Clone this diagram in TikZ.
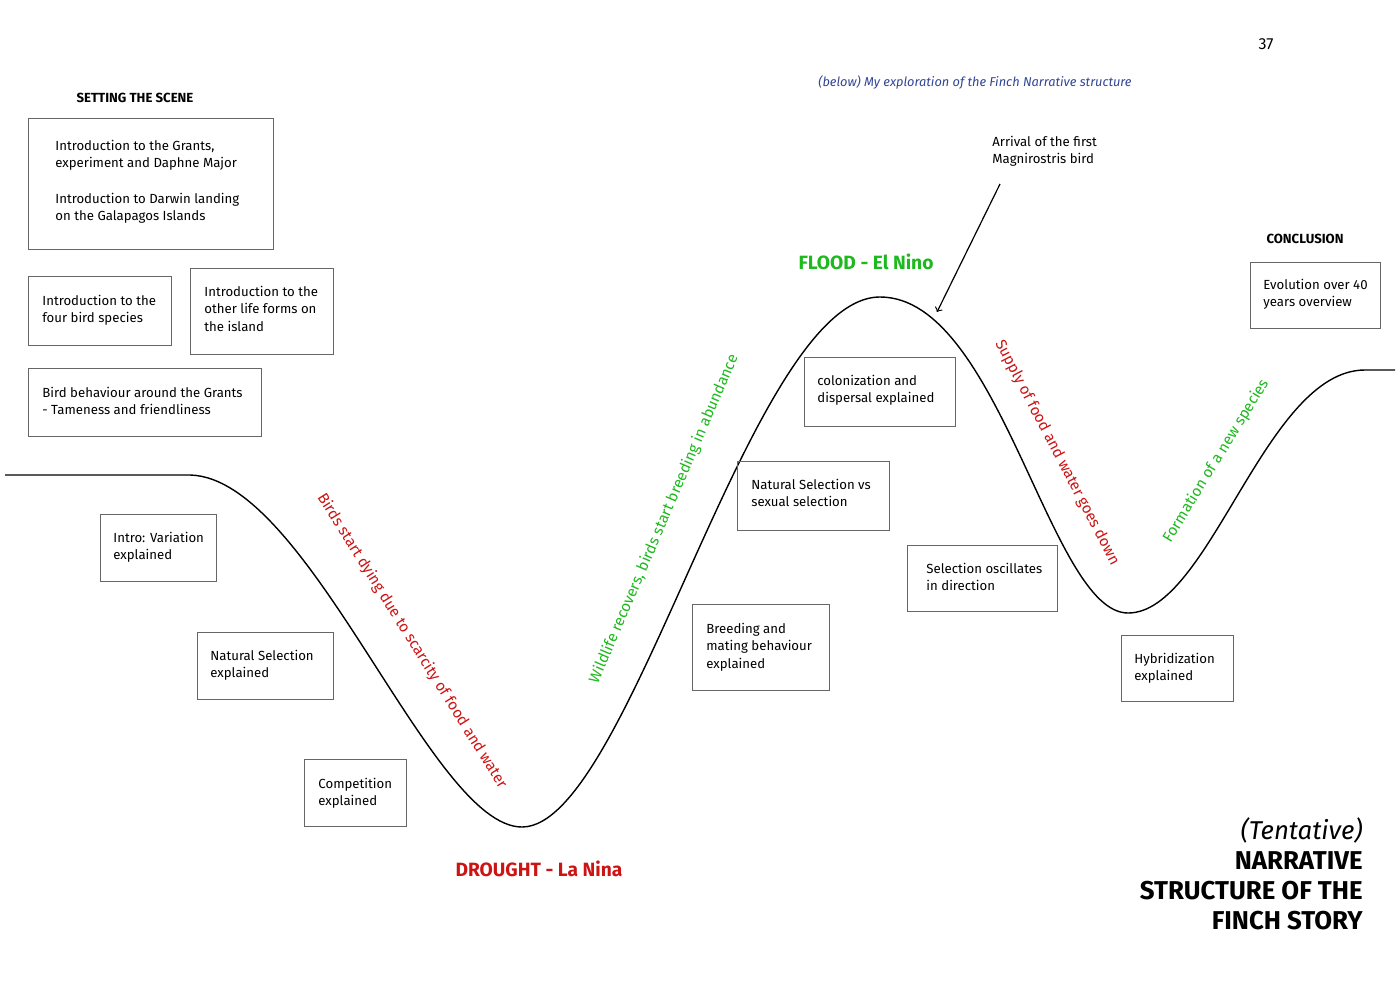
\documentclass[tikz,border=0pt]{standalone}
\usepackage{fontspec}
\setmainfont{Fira Sans}
\definecolor{grn}{RGB}{30,185,30}
\definecolor{rd}{RGB}{205,20,20}
\definecolor{blu}{RGB}{50,70,150}
\begin{document}
\begin{tikzpicture}[x=0.5pt,y=-0.5pt,
 box/.style={draw=black!60,line width=0.5pt},
 txt/.style={anchor=north west,align=left,inner sep=0pt,font=\fontsize{6.6}{8.6}\selectfont},
 lbl/.style={font=\fontsize{7.6}{9}\selectfont,inner sep=0pt},
 hd/.style={font=\fontsize{6.6}{8}\selectfont\bfseries,inner sep=0pt},
 big/.style={font=\fontsize{12.9}{15}\selectfont\bfseries,inner sep=0pt,anchor=east}]
\useasboundingbox (0,0) rectangle (1400,990);
\fill[white] (0,0) rectangle (1400,990);
\draw[line width=0.7pt] (5,475) -- (190,475) .. controls (310,478) and (430,827) .. (522,827)
 .. controls (630,827) and (750,297) .. (880,297)
 .. controls (1000,297) and (1050,613) .. (1128,613)
 .. controls (1210,613) and (1265,370) .. (1365,370) -- (1395,370);
% boxes
\draw[box] (28,118) rectangle (273,249);
\node[txt] (b1) at (55,140) {Introduction to the Grants,\\experiment and Daphne Major\\[9pt]Introduction to Darwin landing\\on the Galapagos Islands};
\draw[box] (28,276) rectangle (171,345);
\node[txt] (b2) at (42,295) {Introduction to the\\four bird species};
\draw[box] (190,268) rectangle (333,354);
\node[txt] (b3) at (204,286) {Introduction to the\\other life forms on\\the island};
\draw[box] (28,368) rectangle (261,436);
\node[txt] (b4) at (42,387) {Bird behaviour around the Grants\\- Tameness and friendliness};
\draw[box] (100,514) rectangle (216,581);
\node[txt] (b5) at (113,532) {Intro: Variation\\explained};
\draw[box] (197,632) rectangle (333,699);
\node[txt] (b6) at (210,650) {Natural Selection\\explained};
\draw[box] (304,759) rectangle (406,826);
\node[txt] (b7) at (318,778) {Competition\\explained};
\draw[box] (692,604) rectangle (829,690);
\node[txt] (b8) at (706,623) {Breeding and\\mating behaviour\\explained};
\draw[box] (737,461) rectangle (889,530);
\node[txt] (b9) at (751,479) {Natural Selection vs\\sexual selection};
\draw[box] (804,357) rectangle (955,426);
\node[txt] (b10) at (817,375) {colonization and\\dispersal explained};
\draw[box] (907,545) rectangle (1057,611);
\node[txt] (b11) at (926,563) {Selection oscillates\\in direction};
\draw[box] (1121,635) rectangle (1233,701);
\node[txt] (b12) at (1134,653) {Hybridization\\explained};
\draw[box] (1250,262) rectangle (1380,328);
\node[txt] (b13) at (1263,279) {Evolution over 40\\years overview};
% headings
\node[hd] (h1) at (135,98) {SETTING THE SCENE};
\node[hd] (h2) at (1305,239) {CONCLUSION};
\node[font=\fontsize{6.4}{8}\selectfont\itshape,text=blu,inner sep=0pt] (ex) at (975,82) {(below) My exploration of the Finch Narrative structure};
\node[font=\fontsize{8}{9}\selectfont,inner sep=0pt] (pg) at (1266,44) {37};
\node[txt] (arr) at (992,136) {Arrival of the first\\Magnirostris bird};
\coordinate (at) at (937,312);
\draw[->,line width=0.6pt] (1000,184) -- (at);
\node[font=\fontsize{9.6}{11}\selectfont\bfseries,text=grn,inner sep=0pt] (fl) at (866,262) {FLOOD - El Nino};
\node[font=\fontsize{9.6}{11}\selectfont\bfseries,text=rd,inner sep=0pt] (dr) at (539,869) {DROUGHT - La Nina};
% slanted labels
\node[lbl,text=rd,rotate=-58] (l1) at (412,641) {Birds start dying due to scarcity of food and water};
\node[lbl,text=grn,rotate=66.8] (l2) at (664,519) {Wildlife recovers, birds start breeding in abundance};
\node[lbl,text=rd,rotate=-62.4] (l3) at (1057,453) {Supply of food and water goes down};
\node[lbl,text=grn,rotate=58.5] (l4) at (1216,461) {Formation of a new species};
% bottom right
\node[font=\fontsize{12.9}{15}\selectfont\itshape,inner sep=0pt,anchor=east] (t0) at (1363,830) {(Tentative)};
\node[big] (t1) at (1363,861) {NARRATIVE};
\node[big] (t2) at (1363,891) {STRUCTURE OF THE};
\node[big] (t3) at (1363,921) {FINCH STORY};
\end{tikzpicture}
\end{document}
